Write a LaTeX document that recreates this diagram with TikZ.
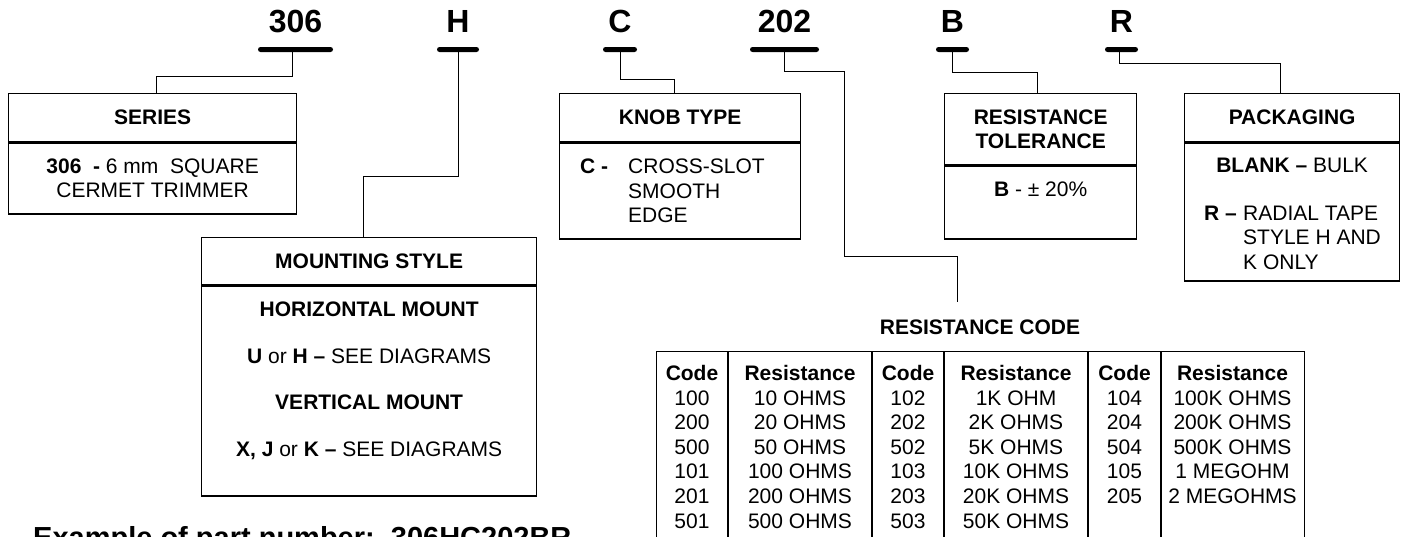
\documentclass[tikz,border=0pt]{standalone}
\usepackage{fontspec}
\setmainfont{Liberation Sans}
\usetikzlibrary{positioning}

\newcommand\bodyfont{\fontsize{21}{24.5}\selectfont}

\tikzset{
  partbar/.style={fill,inner sep=0pt,minimum height=5pt,rounded corners=2.5pt},
  partlabel/.style={inner sep=0pt,font=\fontsize{32}{36}\selectfont\bfseries},
  framebox/.style={draw,line width=1.3pt,inner sep=0pt,anchor=north west},
  headbox/.style={framebox,font=\bodyfont\bfseries,align=center},
  link/.style={line width=1pt},
  rule/.style={line width=1.3pt},
  cell/.style={anchor=base,inner sep=0pt},
}

\begin{document}
\begin{tikzpicture}[x=1pt,y=-1pt,every node/.style={font=\bodyfont}]
\useasboundingbox (0,0) rectangle (1401,536);
\clip (0,0) rectangle (1401,536);

% part number
\node[partbar,minimum width=75pt] (bar306) at (295.5,49.5) {};
\node[partbar,minimum width=42pt] (barH) at (458,49.5) {};
\node[partbar,minimum width=34pt] (barC) at (620,49.5) {};
\node[partbar,minimum width=69pt] (bar202) at (784.5,49.5) {};
\node[partbar,minimum width=33pt] (barB) at (952.5,49.5) {};
\node[partbar,minimum width=33pt] (barR) at (1121.5,49.5) {};
\node[partlabel,above=14pt of bar306] (lbl306) {306};
\node[partlabel,above=14pt of barH] (lblH) {H};
\node[partlabel,above=14pt of barC] (lblC) {C};
\node[partlabel,above=14pt of bar202] (lbl202) {202};
\node[partlabel,above=14pt of barB] (lblB) {B};
\node[partlabel,above=14pt of barR] (lblR) {R};

% boxes
\node[headbox,minimum width=288pt,minimum height=48pt] (serieshead) at (8,93) {SERIES};
\node[framebox,below=0pt of serieshead,minimum width=288pt,minimum height=71pt,align=center] (seriesbody)
  {\textbf{306\ \ -}\ 6 mm\ \ SQUARE\\CERMET TRIMMER};

\node[headbox,minimum width=335pt,minimum height=47pt] (mounthead) at (201,237) {MOUNTING STYLE};
\node[framebox,below=0pt of mounthead,minimum width=335pt,minimum height=210pt] (mountbody) {};
\node[below=16.5pt of mounthead,align=center,inner sep=0pt] (mounttext)
  {\textbf{HORIZONTAL MOUNT}\\[22pt]\textbf{U} or \textbf{H –} SEE DIAGRAMS\\[22pt]%
   \textbf{VERTICAL MOUNT}\\[22pt]\textbf{X, J} or \textbf{K –} SEE DIAGRAMS};

\node[headbox,minimum width=241pt,minimum height=48pt] (knobhead) at (559,93) {KNOB TYPE};
\node[framebox,below=0pt of knobhead,minimum width=241pt,minimum height=96pt] (knobbody) {};
\node[anchor=west,align=left,inner sep=0pt] (knobtext) at ([xshift=21pt]knobbody.west)
  {\makebox[48pt][l]{\textbf{C -}}CROSS-SLOT\\\hspace*{48pt}SMOOTH\\\hspace*{48pt}EDGE};

\node[headbox,minimum width=192pt,minimum height=71pt] (tolhead) at (944,93) {RESISTANCE\\TOLERANCE};
\node[framebox,below=0pt of tolhead,minimum width=192pt,minimum height=73pt] (tolbody) {};
\node[below=16pt of tolhead,inner sep=0pt] (toltext) {\textbf{B} - ± 20\%};

\node[headbox,minimum width=215pt,minimum height=48pt] (packhead) at (1184,93) {PACKAGING};
\node[framebox,below=0pt of packhead,minimum width=215pt,minimum height=138pt] (packbody) {};
\node[below=16pt of packhead,inner sep=0pt] (packblank) {\textbf{BLANK –} BULK};
\node[anchor=north west,align=left,inner sep=0pt] (packradial) at (1204,205.5)
  {\makebox[39pt][l]{\textbf{R –}}RADIAL TAPE\\\hspace*{39pt}STYLE H AND\\\hspace*{39pt}K ONLY};

% resistance code table
\node[inner sep=0pt,font=\bodyfont\bfseries] (codetitle) at (980,327) {RESISTANCE CODE};
\coordinate (codetop) at (957,302);
\node[framebox,minimum width=648pt,minimum height=220pt] (codetable) at (656,351) {};
\foreach \x in {728,872,944,1088,1161}
  \draw[rule] (\x,351) -- (\x,571);
\foreach \x/\hd [count=\i] in {692/Code,800/Resistance,908/Code,1016/Resistance,1124.5/Code,1232.5/Resistance}
  \node[cell,font=\bodyfont\bfseries] (hd\i) at (\x,380.5) {\hd};
\foreach \r/\cd/\rs in {1/100/10 OHMS,2/200/20 OHMS,3/500/50 OHMS,4/101/100 OHMS,5/201/200 OHMS,6/501/500 OHMS} {
  \node[cell] (ca\r) at (692,{380.5+24.6*\r}) {\cd};
  \node[cell] (ra\r) at (800,{380.5+24.6*\r}) {\rs};
}
\foreach \r/\cd/\rs in {1/102/1K OHM,2/202/2K OHMS,3/502/5K OHMS,4/103/10K OHMS,5/203/20K OHMS,6/503/50K OHMS} {
  \node[cell] (cb\r) at (908,{380.5+24.6*\r}) {\cd};
  \node[cell] (rb\r) at (1016,{380.5+24.6*\r}) {\rs};
}
\foreach \r/\cd/\rs in {1/104/100K OHMS,2/204/200K OHMS,3/504/500K OHMS,4/105/1 MEGOHM,5/205/2 MEGOHMS} {
  \node[cell] (cc\r) at (1124.5,{380.5+24.6*\r}) {\cd};
  \node[cell] (rc\r) at (1232.5,{380.5+24.6*\r}) {\rs};
}

% connectors
\draw[link] ([xshift=-3.5pt]bar306.south) -- ++(0,24) -| ([xshift=4pt]serieshead.north);
\draw[link] (barH.south) -- ++(0,124) -| ([xshift=-5.5pt]mounthead.north);
\draw[link] (barC.south) -- ++(0,27) -| ([xshift=-5.5pt]knobhead.north);
\draw[link] (bar202.south) -- ++(0,19) -- ++(59.5,0) -- ++(0,185) -| (codetop);
\draw[link] (barB.south) -- ++(0,20) -| ([xshift=-3pt]tolhead.north);
\draw[link] ([xshift=-2.5pt]barR.south) -- ++(0,11) -| ([xshift=-12pt]packhead.north);

\node[anchor=base west,inner sep=0pt,font=\fontsize{29}{34}\selectfont\bfseries] (example) at (33,547)
  {Example of part number:\ \ 306HC202BR};
\end{tikzpicture}
\end{document}
